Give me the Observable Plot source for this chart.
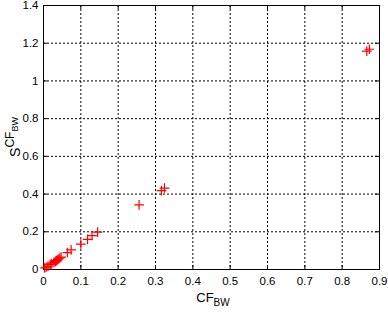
<!DOCTYPE html>
<html><head><meta charset="utf-8">
<script src="https://cdn.jsdelivr.net/npm/d3@7"></script>
<script src="https://cdn.jsdelivr.net/npm/@observablehq/plot@0.6"></script>
<style>body{margin:0;background:#fff;} svg{font-family:"Liberation Sans",Arial,sans-serif;}</style>
</head><body><div id="chart"></div>
<script>
const cfbw = [0.003,0.007,0.012,0.018,0.022,0.028,0.032,0.035,0.038,0.041,0.044,0.047,0.064,0.074,0.100,0.118,0.130,0.145,0.256,0.316,0.324,0.866,0.873];
const scfbw = [0.008,0.012,0.018,0.027,0.030,0.038,0.043,0.047,0.052,0.056,0.061,0.066,0.090,0.104,0.135,0.160,0.180,0.198,0.343,0.418,0.432,1.158,1.168];
const xTicks = [0,0.1,0.2,0.3,0.4,0.5,0.6,0.7,0.8,0.9];
const yTicks = [0,0.2,0.4,0.6,0.8,1,1.2,1.4];
const data = cfbw.map((x,i)=>({x, y: scfbw[i]}));
const mT=5, mB=44, mL=43, mR=9, W=388, H=313;
const ph = H-mT-mB, pw = W-mL-mR;
const chart = Plot.plot({
  width: W, height: H,
  marginTop: mT, marginBottom: mB, marginLeft: mL, marginRight: mR,
  style: {fontSize: "11.5px", fontFamily: "Liberation Sans, Arial, sans-serif", color: "#000", background: "#fff"},
  x: {domain: [0,0.9]},
  y: {domain: [0,1.4]},
  marks: [
    Plot.ruleX(xTicks.slice(1,-1), {stroke: "#000", strokeWidth: 1, strokeDasharray: "2,2"}),
    Plot.ruleY(yTicks.slice(1,-1), {stroke: "#000", strokeWidth: 1, strokeDasharray: "2,2"}),
    Plot.ruleX(xTicks, {stroke: "#000", insetTop: ph-4}),
    Plot.ruleX(xTicks, {stroke: "#000", insetBottom: ph-4}),
    Plot.ruleY(yTicks, {stroke: "#000", insetRight: pw-4}),
    Plot.ruleY(yTicks, {stroke: "#000", insetLeft: pw-4}),
    Plot.frame({stroke: "#000"}),
    Plot.axisX(xTicks, {tickSize: 0, tickPadding: 7, label: null, fill: "#000", tickFormat: d => String(d)}),
    Plot.axisY(yTicks, {tickSize: 0, tickPadding: 5, label: null, fill: "#000", tickFormat: d => String(d)}),
    Plot.dot(data, {x: "x", y: "y", symbol: "plus", stroke: "red", r: 3.2, strokeWidth: 1.2})
  ]
});
document.getElementById("chart").appendChild(chart);
const svg = d3.select(chart);
const xl = svg.append("text").attr("x", mL + pw/2 + 2).attr("y", 302).attr("text-anchor","middle")
  .attr("font-size", 13).attr("fill","#000");
xl.append("tspan").text("CF");
xl.append("tspan").attr("dy", 4).attr("font-size", 10).text("BW");
const yl = svg.append("text").attr("transform", `translate(20,${mT+ph/2}) rotate(-90)`).attr("text-anchor","middle")
  .attr("font-size", 14).attr("fill","#000");
yl.append("tspan").text("S");
yl.append("tspan").attr("dy", -6).attr("font-size", 12).text("CF");
yl.append("tspan").attr("dy", 4).attr("font-size", 9).text("BW");
</script></body></html>
